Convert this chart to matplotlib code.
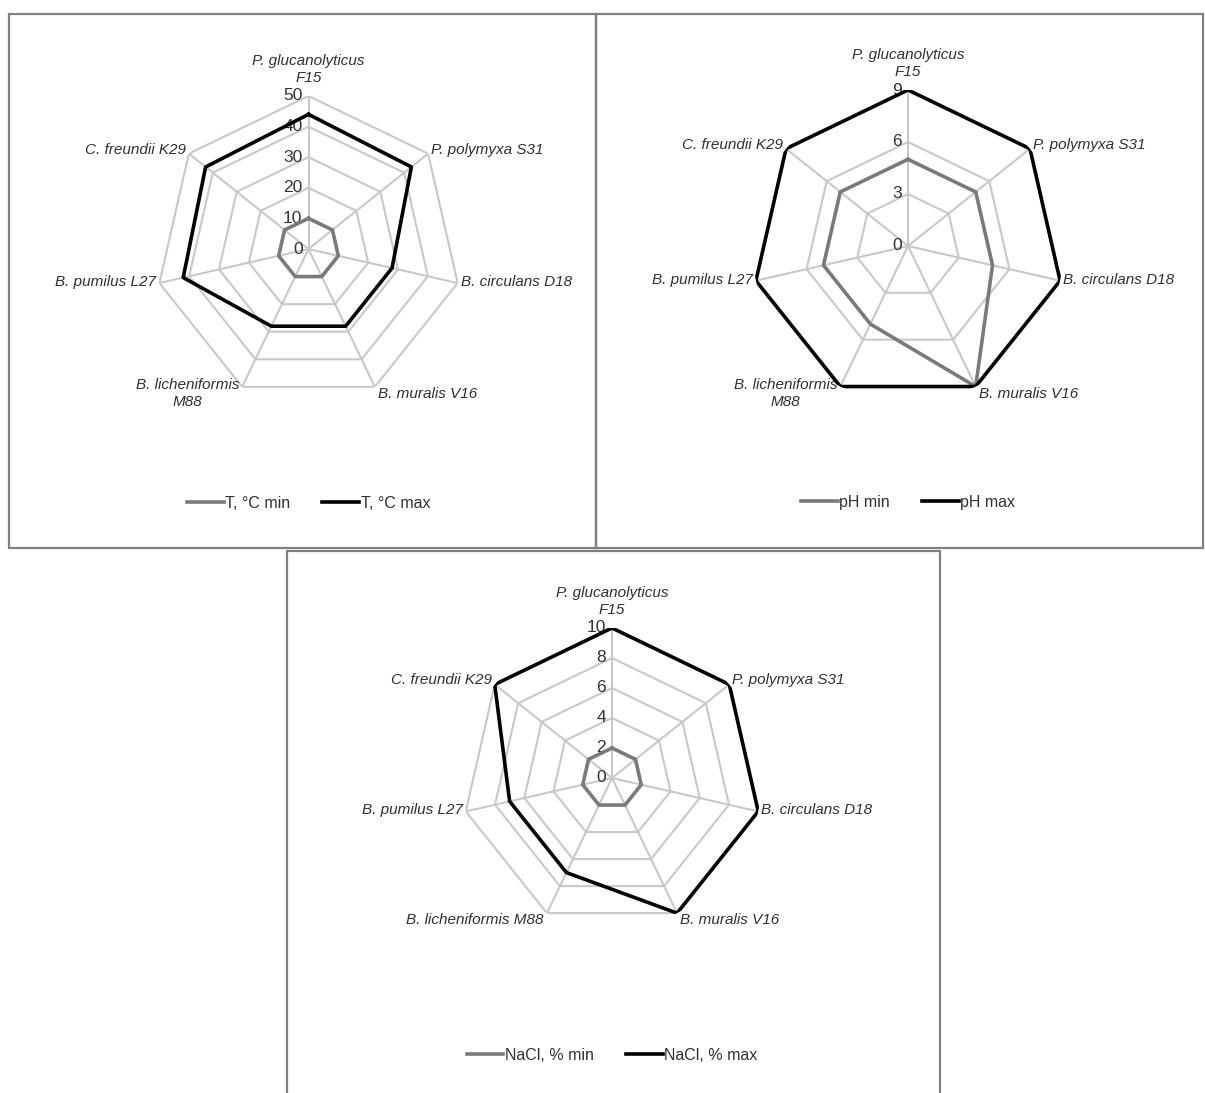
import numpy as np
import matplotlib
matplotlib.use("Agg")
import matplotlib.pyplot as plt
from matplotlib.patches import Rectangle
import matplotlib.transforms as mtransforms

plt.rcParams['font.family'] = ['Liberation Sans', 'DejaVu Sans']

W, H = 1205, 1093

strains = ["P. glucanolyticus\nF15", "P. polymyxa S31", "B. circulans D18",
           "B. muralis V16", "B. licheniformis\nM88", "B. pumilus L27",
           "C. freundii K29"]
strains_nacl = ["P. glucanolyticus\nF15", "P. polymyxa S31", "B. circulans D18",
                "B. muralis V16", "B. licheniformis M88", "B. pumilus L27",
                "C. freundii K29"]

t_min = [10, 10, 10, 10, 10, 10, 10]
t_max = [44, 43, 28, 28, 28, 42, 43]
t_ticks = [0, 10, 20, 30, 40, 50]

ph_min = [5, 5, 5, 9, 5, 5, 5]
ph_max = [9, 9, 9, 9, 9, 9, 9]
ph_ticks = [0, 3, 6, 9]

nacl_min = [2, 2, 2, 2, 2, 2, 2]
nacl_max = [10, 10, 10, 10, 7, 7, 10]
nacl_ticks = [0, 2, 4, 6, 8, 10]

GRID = '#c8c8c8'
MINC = '#7a7a7a'
TXT = '#303030'

fig = plt.figure(figsize=(W / 100, H / 100), dpi=100)


def box(x0, y0, x1, y1):
    fig.add_artist(Rectangle((x0 / W, 1 - y1 / H), (x1 - x0) / W, (y1 - y0) / H,
                             transform=fig.transFigure, fill=False,
                             edgecolor='#808080', lw=1.6))


def radar(cx, cy, R, labels, vmin, vmax, ticks, names, leg_y):
    ax = fig.add_axes([(cx - R) / W, 1 - (cy + R) / H, 2 * R / W, 2 * R / H],
                      projection='polar')
    n = len(labels)
    ang = np.linspace(0, 2 * np.pi, n, endpoint=False)
    closed = np.append(ang, ang[0])
    ax.set_theta_zero_location('N')
    ax.set_theta_direction(-1)
    rmax = ticks[-1]
    ax.set_ylim(0, rmax)
    ax.spines['polar'].set_visible(False)
    ax.patch.set_visible(False)
    ax.set_xticks(ang)
    ax.set_xticklabels([])
    ax.set_yticks([])
    ax.xaxis.grid(True, color=GRID, lw=1.5)
    ax.tick_params(length=0)
    for t in ticks[1:]:
        ax.plot(closed, [t] * (n + 1), color=GRID, lw=1.5, zorder=1)
    # valeurs sur l'axe vertical
    off = mtransforms.offset_copy(ax.transData, fig=fig, x=-6, y=0, units='dots')
    for t in ticks:
        ax.text(0, t, str(t), transform=off, ha='right', va='center',
                fontsize=12.5, color='#333333', zorder=2)
    l1, = ax.plot(closed, np.append(vmin, vmin[0]), color=MINC, lw=2.6, zorder=3)
    l2, = ax.plot(closed, np.append(vmax, vmax[0]), color='black', lw=2.6, zorder=4)
    # noms des souches
    for a, lab in zip(ang, labels):
        s = np.sin(a)
        if abs(s) < 1e-6:
            tr = mtransforms.offset_copy(ax.transData, fig=fig, x=0, y=11, units='dots')
            ax.text(a, rmax, lab, transform=tr, ha='center', va='bottom',
                    fontsize=11, style='italic', color=TXT, linespacing=1.3)
            continue
        ha = 'left' if s > 0 else 'right'
        dx = 3 if s > 0 else -3
        c = np.cos(a)
        dy = -7 if c < -0.5 else (4 if c > 0.5 else 1)
        if '\n' in lab:
            tr = mtransforms.offset_copy(ax.transData, fig=fig, x=dx, y=9, units='dots')
            ax.text(a, rmax, lab, transform=tr, ha=ha, va='top', multialignment='center',
                    fontsize=11, style='italic', color=TXT, linespacing=1.3)
        else:
            tr = mtransforms.offset_copy(ax.transData, fig=fig, x=dx, y=dy, units='dots')
            ax.text(a, rmax, lab, transform=tr, ha=ha, va='center',
                    fontsize=11, style='italic', color=TXT)
    fig.legend([l1, l2], names, loc='center', bbox_to_anchor=(cx / W, 1 - leg_y / H),
               ncol=2, frameon=False, fontsize=11.5, handlelength=2.3, handletextpad=0.1,
               columnspacing=2.0, labelcolor=TXT)
    return ax


box(9, 14, 596, 548)
box(596, 14, 1203, 548)
box(287, 551, 940, 1100)

radar(308.5, 249, 153, strains, t_min, t_max, t_ticks, ["T, °C min", "T, °C max"], 503)
radar(908, 246, 156, strains, ph_min, ph_max, ph_ticks, ["pH min", "pH max"], 502)
radar(612, 778, 150, strains_nacl, nacl_min, nacl_max, nacl_ticks,
      ["NaCl, % min", "NaCl, % max"], 1055)

fig.savefig("out.png", dpi=100, facecolor='white')
